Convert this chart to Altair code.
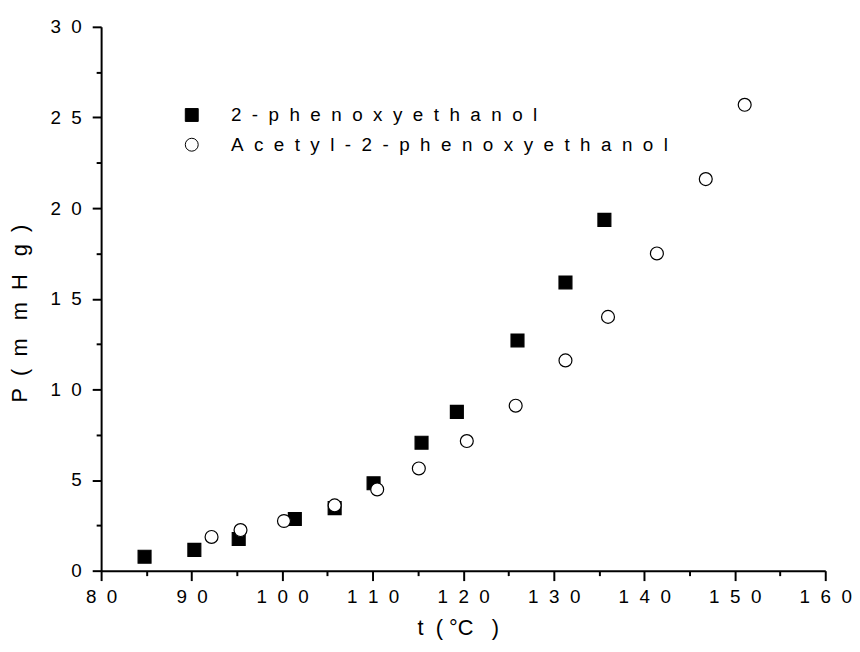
import altair as alt
import pandas as pd

# ---- data ----
series_a = "2-phenoxyethanol"
series_b = "Acetyl-2-phenoxyethanol"

t_a = [84.8, 90.3, 95.2, 101.4, 105.8, 110.1, 115.4, 119.3, 126.0, 131.3, 135.6]
p_a = [0.77, 1.15, 1.75, 2.85, 3.45, 4.82, 7.06, 8.76, 12.7, 15.9, 19.35]

t_b = [92.2, 95.4, 100.2, 105.8, 110.5, 115.1, 120.4, 125.8, 131.3, 136.0, 141.4, 146.8, 151.1]
p_b = [1.86, 2.24, 2.74, 3.6, 4.48, 5.64, 7.15, 9.1, 11.6, 14.0, 17.5, 21.6, 25.7]

x_ticks = [80, 85, 90, 95, 100, 105, 110, 115, 120, 125, 130, 135, 140, 145, 150, 155, 160]
y_ticks = [0, 2.5, 5, 7.5, 10, 12.5, 15, 17.5, 20, 22.5, 25, 27.5, 30]

NB = "\u00a0"
x_title = "t" + NB * 2 + "(" + NB + "°C" + NB * 3 + ")"
y_title = ("P" + NB * 2 + "(" + NB * 2 + "m" + NB * 3 + "m" + NB * 2
           + "H" + NB * 3 + "g" + NB * 2 + ")")

df = pd.DataFrame({
    "t": t_a + t_b,
    "P": p_a + p_b,
    "series": [series_a] * len(t_a) + [series_b] * len(t_b),
})

FONT = "Liberation Sans"
SP = NB * 2

x_axis = alt.Axis(
    values=x_ticks,
    title=x_title,
    grid=False,
    labelOverlap=False,
    labelFlush=False,
    labelExpr=f"datum.value % 10 === 0 ? join(split(format(datum.value, 'd'), ''), '{SP}') : ''",
    tickSize={"condition": {"test": "datum.value % 10 === 0", "value": 10}, "value": 5},
    labelPadding=7,
    labelFont=FONT, labelFontSize=19, labelColor="black",
    titleFont=FONT, titleFontSize=22, titleFontWeight="normal", titleColor="black",
    titleX=360, titleY=64, titleAlign="center", titleBaseline="alphabetic",
    domainColor="black", domainWidth=2, tickColor="black", tickWidth=2,
)

y_axis = alt.Axis(
    values=y_ticks,
    title=y_title,
    grid=False,
    labelOverlap=False,
    labelFlush=False,
    labelExpr=f"datum.value % 5 === 0 ? join(split(format(datum.value, 'd'), ''), '{SP}') : ''",
    tickSize={"condition": {"test": "datum.value % 5 === 0", "value": 9}, "value": 5},
    labelPadding=11,
    labelFont=FONT, labelFontSize=19, labelColor="black",
    titleFont=FONT, titleFontSize=22, titleFontWeight="normal", titleColor="black",
    titleX=-75, titleY=289, titleAngle=270, titleAlign="center", titleBaseline="alphabetic",
    domainColor="black", domainWidth=2, tickColor="black", tickWidth=2,
)

legend = alt.Legend(
    orient="none", legendX=82, legendY=79.5, title=None,
    labelFont=FONT, labelFontSize=19, labelColor="black", labelLimit=0,
    labelOffset=30, rowPadding=10, symbolSize=170,
    symbolStrokeColor="black", symbolStrokeWidth=1, padding=0,
    labelExpr=f"join(split(datum.label, ''), '{SP}')",
)

dom = [series_a, series_b]
chart = alt.Chart(df).mark_point(
    strokeWidth=1.2, size=170, opacity=1, fillOpacity=1
).encode(
    x=alt.X("t:Q", scale=alt.Scale(domain=[80, 160], nice=False, zero=False), axis=x_axis),
    y=alt.Y("P:Q", scale=alt.Scale(domain=[0, 30], nice=False, zero=False), axis=y_axis),
    shape=alt.Shape("series:N", scale=alt.Scale(domain=dom, range=["square", "circle"]), legend=legend),
    fill=alt.Fill("series:N", scale=alt.Scale(domain=dom, range=["black", "white"]), legend=legend),
    stroke=alt.Stroke("series:N", scale=alt.Scale(domain=dom, range=["black", "black"]), legend=legend),
).properties(
    width=731, height=549,
    autosize=alt.AutoSizeParams(type="none"),
    padding={"left": 94, "top": 16, "right": 27, "bottom": 70},
    background="white",
).configure_view(stroke=None)

chart.save("out.html", embed_options={"renderer": "svg", "actions": False})
